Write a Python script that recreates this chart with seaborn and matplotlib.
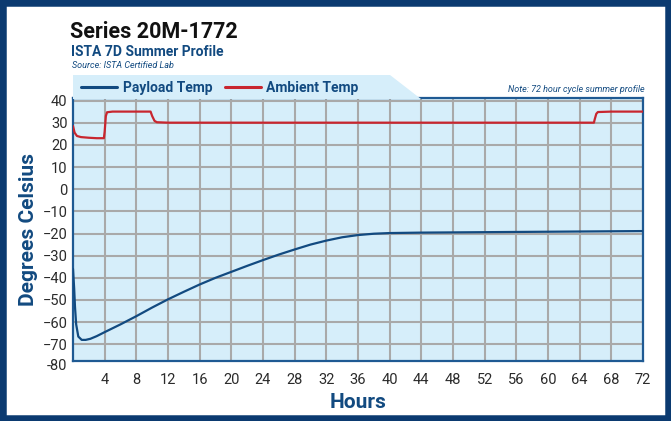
import pandas as pd
import seaborn as sns
import matplotlib.pyplot as plt
from matplotlib.patches import Polygon, Rectangle
from matplotlib.lines import Line2D

# ---- Data ----
payload_hours = [0, 0.15, 0.25, 0.4, 0.67, 1.1, 1.6, 2.2, 3, 4, 6, 8, 10, 12, 14, 16,
                 18, 20, 22, 24, 26, 28, 30, 32, 34, 36, 38, 40, 44, 48, 52, 56, 60,
                 64, 68, 72]
payload_temp = [-36, -45, -53, -61, -66.5, -68, -68, -67.5, -66.3, -64.5, -61, -57.3,
                -53.4, -49.7, -46.3, -43, -40, -37.3, -34.6, -32, -29.5, -27.2, -25,
                -23.2, -21.7, -20.7, -20.1, -19.8, -19.6, -19.5, -19.4, -19.3, -19.2,
                -19.1, -19.0, -18.9]

ambient_hours = [0, 0.2, 0.5, 1, 2, 3, 3.9, 4.0, 4.15, 4.3, 5, 8, 9.8, 10.0, 10.3,
                 10.6, 12, 20, 40, 60, 65.8, 65.9, 66.1, 66.3, 68, 72]
ambient_temp = [28.5, 25.5, 24, 23.5, 23.2, 23, 23, 26, 33, 34.7, 35, 35, 35, 33, 30.8,
                30.2, 30, 30, 30, 30, 30, 31.5, 34, 34.8, 35, 35]

series_names = ["Payload Temp", "Ambient Temp"]
x_ticks = list(range(4, 73, 4))
y_ticks = list(range(-70, 41, 10))

df = pd.concat([
    pd.DataFrame({"hours": payload_hours, "temp": payload_temp, "series": series_names[0]}),
    pd.DataFrame({"hours": ambient_hours, "temp": ambient_temp, "series": series_names[1]}),
])

# ---- Style ----
NAVY = "#0b3a70"
DARK_BLUE = "#124a80"
RED = "#c8262f"
PANEL = "#d6eefa"
GRID = "#a9a9a9"
FRAME = "#1f5a93"

sns.set_style("white")
plt.rcParams["font.family"] = ["Roboto", "DejaVu Sans"]

W, H = 671, 421
fig = plt.figure(figsize=(W / 100, H / 100), dpi=100)


def fx(px):
    return px / W


def fy(py):
    return 1 - py / H


ax_left, ax_right, ax_top, ax_bottom = 73, 643, 98.3, 360.5
ax = fig.add_axes([fx(ax_left), fy(ax_bottom), fx(ax_right - ax_left), (ax_bottom - ax_top) / H])
ax.set_facecolor(PANEL)

# header tab behind the legend
tab = Polygon([(fx(73), fy(99)), (fx(73), fy(75)), (fx(390), fy(75)), (fx(421), fy(99))],
              closed=True, transform=fig.transFigure, facecolor=PANEL, edgecolor="none", zorder=0)
fig.patches.append(tab)

sns.lineplot(data=df, x="hours", y="temp", hue="series", palette=[DARK_BLUE, RED],
             estimator=None, sort=False, legend=False, linewidth=1.6, ax=ax, zorder=3)

ax.set_xlim(0, 72)
ax.set_ylim(-77.3, 41)
ax.set_xticks(x_ticks)
ax.set_yticks(y_ticks)
ax.grid(True, color=GRID, linewidth=1.5, zorder=1)
ax.set_axisbelow(True)
ax.tick_params(length=0, labelsize=10.5, labelcolor="#2b2b2b")
ax.tick_params(axis="x", pad=9)
ax.tick_params(axis="y", pad=4)
ax.annotate("-80", xy=(0, -80), xycoords=ax.get_yaxis_transform(), xytext=(-4, 0),
            textcoords="offset points", ha="right", va="center", fontsize=10.5,
            color="#2b2b2b", annotation_clip=False)
for s in ax.spines.values():
    s.set_color(FRAME)
    s.set_linewidth(1.6)
ax.set_xlabel("Hours", fontsize=15, fontweight="bold", color=DARK_BLUE, labelpad=4)
ax.set_ylabel("Degrees Celsius", fontsize=15, fontweight="bold", color=DARK_BLUE, labelpad=3)

# titles
fig.text(fx(70), fy(38), "Series 20M-1772", fontsize=15.5, fontweight="bold", color="#111111",
         ha="left", va="baseline")
fig.text(fx(71), fy(56.5), "ISTA 7D Summer Profile", fontsize=10, fontweight="bold",
         color=DARK_BLUE, ha="left", va="baseline")
fig.text(fx(72), fy(67.5), "Source: ISTA Certified Lab", fontsize=6.5, style="italic",
         color=DARK_BLUE, ha="left", va="baseline")
fig.text(fx(645), fy(89), "Note: 72 hour cycle summer profile", fontsize=6.5, style="italic",
         color=DARK_BLUE, ha="right", va="center")

# legend
handles = [Line2D([], [], color=DARK_BLUE, linewidth=2.2),
           Line2D([], [], color=RED, linewidth=2.2)]
leg = fig.legend(handles, series_names, loc="center left", bbox_to_anchor=(fx(81), fy(88)),
                 ncol=2, frameon=False, handlelength=2.6, handletextpad=0.4,
                 columnspacing=0.9, borderpad=0, borderaxespad=0,
                 prop={"size": 10, "weight": "bold"})
for t in leg.get_texts():
    t.set_color(DARK_BLUE)

# outer border
fig.patches.append(Rectangle((0, 0), 1, 1, transform=fig.transFigure, fill=False,
                             edgecolor=NAVY, linewidth=9, zorder=10))

fig.savefig("out.png", dpi=100)
